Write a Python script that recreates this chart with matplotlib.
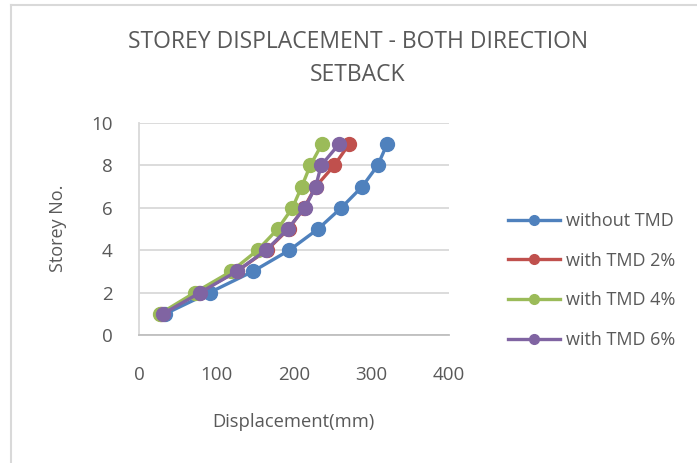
import matplotlib
matplotlib.use("Agg")
import matplotlib.pyplot as plt
from matplotlib.lines import Line2D

storeys = [1, 2, 3, 4, 5, 6, 7, 8, 9]
without_tmd = [34, 91, 147, 194, 231, 261, 288, 308, 320]
tmd_2 = [29, 77, 126, 165, 193, 213, 228, 252, 271]
tmd_4 = [27, 72, 119, 153, 179, 198, 210, 221, 236]
tmd_6 = [31, 79, 126, 164, 192, 214, 228, 235, 258]

labels = ["without TMD", "with TMD 2%", "with TMD 4%", "with TMD 6%"]
colors = ["#4F81BD", "#C0504D", "#9BBB59", "#8064A2"]
x_ticks = [0, 100, 200, 300, 400]
y_ticks = [0, 2, 4, 6, 8, 10]

txt = "#595959"
plt.rcParams["font.family"] = ["Open Sans", "DejaVu Sans"]

fig = plt.figure(figsize=(6.97, 4.63), dpi=100)
ax = fig.add_axes([0.1994, 0.2765, 0.4448, 0.4578])

series = [without_tmd, tmd_2, tmd_4, tmd_6]
for vals, c in zip(series, colors):
    ax.plot(vals, storeys, color=c, lw=2.4, marker="o", markersize=10,
            solid_capstyle="round")

ax.set_xlim(0, 400)
ax.set_ylim(0, 10)
ax.set_xticks(x_ticks)
ax.set_yticks(y_ticks)
ax.tick_params(length=0, labelsize=13.5, labelcolor=txt)
ax.tick_params(axis="x", pad=22)
ax.tick_params(axis="y", pad=19)
ax.yaxis.grid(True, color="#d9d9d9", lw=1.3)
ax.set_axisbelow(True)
for s in ["top", "right"]:
    ax.spines[s].set_visible(False)
ax.spines["left"].set_color("#d9d9d9")
ax.spines["bottom"].set_color("#bfbfbf")
ax.spines["left"].set_linewidth(1.3)
ax.spines["bottom"].set_linewidth(1.3)

fig.text(58 / 697, 1 - 228 / 463, "Storey No.", rotation=90, ha="center",
         va="center", fontsize=13, color=txt)
fig.text(293 / 697, 1 - 422 / 463, "Displacement(mm)", ha="center",
         va="center", fontsize=13.2, color=txt)

fig.text(358 / 697, 1 - 42 / 463, "STOREY DISPLACEMENT - BOTH DIRECTION",
         ha="center", va="center", fontsize=16.5, color=txt)
fig.text(358 / 697, 1 - 75 / 463, "SETBACK",
         ha="center", va="center", fontsize=16.5, color=txt)

handles = [Line2D([], [], color=c, lw=2.4, marker="o", markersize=7)
           for c in colors]
fig.legend(handles, labels, loc="center left",
           bbox_to_anchor=(508 / 697, 1 - 280.5 / 463), frameon=False,
           fontsize=13, labelcolor=txt, handlelength=2.9, handletextpad=0.3,
           labelspacing=1.2, borderpad=0, borderaxespad=0)

# outer chart border
fig.add_artist(Line2D([11 / 697, 11 / 697], [0, 1 - 5 / 463],
                      transform=fig.transFigure, color="#d9d9d9", lw=1.5))
fig.add_artist(Line2D([11 / 697, 1], [1 - 5 / 463, 1 - 5 / 463],
                      transform=fig.transFigure, color="#d9d9d9", lw=1.5))

fig.savefig("out.png", dpi=100)
